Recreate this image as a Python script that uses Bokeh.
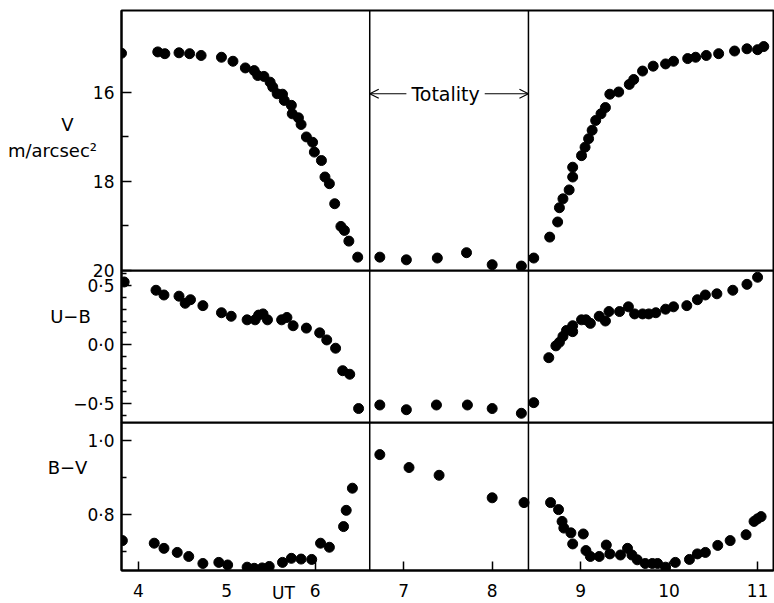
from bokeh.plotting import figure
from bokeh.layouts import column
from bokeh.models import (Range1d, FixedTicker, Span, Label, Arrow, OpenHead,
                          CustomJSTickFormatter)
from bokeh.core.properties import value
from bokeh.embed import file_html
from bokeh.resources import INLINE

# ---------------- data ----------------
ut_v = [3.81, 4.22, 4.30, 4.46, 4.58, 4.71, 4.94, 5.07, 5.21, 5.31, 5.35, 5.42, 5.49, 5.52,
        5.57, 5.63, 5.65, 5.73, 5.74, 5.81, 5.84, 5.90, 5.97, 5.99, 6.07, 6.11, 6.16, 6.22,
        6.29, 6.33, 6.38, 6.48, 6.73, 7.03, 7.38, 7.71, 8.00, 8.33, 8.47, 8.65, 8.74, 8.76,
        8.80, 8.87, 8.91, 8.91, 9.01, 9.05, 9.09, 9.13, 9.17, 9.23, 9.28, 9.33, 9.43, 9.55,
        9.60, 9.70, 9.82, 9.96, 10.05, 10.21, 10.30, 10.42, 10.56, 10.74, 10.88, 11.00, 11.07]
v_mag = [15.12, 15.09, 15.13, 15.11, 15.13, 15.17, 15.21, 15.30, 15.45, 15.51, 15.62, 15.64,
         15.77, 15.88, 16.03, 16.04, 16.18, 16.29, 16.48, 16.57, 16.72, 17.00, 17.12, 17.34,
         17.53, 17.90, 18.05, 18.50, 19.01, 19.10, 19.34, 19.70, 19.70, 19.76, 19.72, 19.60,
         19.87, 19.90, 19.72, 19.25, 18.91, 18.59, 18.39, 18.19, 17.90, 17.68, 17.42, 17.23,
         17.04, 16.85, 16.63, 16.48, 16.34, 16.04, 15.99, 15.82, 15.71, 15.52, 15.41, 15.36,
         15.30, 15.24, 15.21, 15.17, 15.13, 15.07, 15.02, 15.04, 14.97]

ut_ub = [3.84, 4.20, 4.29, 4.46, 4.53, 4.59, 4.73, 4.94, 5.05, 5.23, 5.32, 5.36, 5.41, 5.46,
         5.62, 5.68, 5.75, 5.90, 6.05, 6.13, 6.23, 6.31, 6.39, 6.49, 6.73, 7.03, 7.37, 7.72,
         8.00, 8.33, 8.47, 8.64, 8.72, 8.76, 8.80, 8.84, 8.91, 8.91, 9.01, 9.06, 9.11, 9.21,
         9.28, 9.32, 9.44, 9.54, 9.61, 9.70, 9.77, 9.85, 9.96, 10.05, 10.20, 10.32, 10.41,
         10.54, 10.72, 10.88, 11.00]
u_b = [0.53, 0.46, 0.42, 0.41, 0.35, 0.38, 0.33, 0.27, 0.24, 0.21, 0.21, 0.25, 0.26, 0.21,
       0.21, 0.23, 0.16, 0.14, 0.10, 0.04, -0.03, -0.22, -0.25, -0.54, -0.51, -0.55, -0.51,
       -0.51, -0.54, -0.58, -0.49, -0.11, -0.01, 0.02, 0.07, 0.12, 0.16, 0.11, 0.21, 0.21,
       0.18, 0.24, 0.20, 0.28, 0.28, 0.32, 0.26, 0.26, 0.26, 0.27, 0.30, 0.32, 0.33, 0.38,
       0.42, 0.43, 0.46, 0.51, 0.57]

ut_bv = [3.82, 4.18, 4.29, 4.44, 4.57, 4.73, 4.91, 5.01, 5.23, 5.31, 5.40, 5.48, 5.63, 5.73,
         5.84, 5.96, 6.06, 6.16, 6.32, 6.35, 6.42, 6.73, 7.06, 7.40, 8.00, 8.36, 8.66, 8.75,
         8.79, 8.81, 8.89, 8.91, 9.03, 9.06, 9.11, 9.21, 9.29, 9.33, 9.45, 9.53, 9.58, 9.64,
         9.73, 9.81, 9.87, 9.96, 10.07, 10.23, 10.32, 10.41, 10.55, 10.69, 10.87, 10.96,
         11.00, 11.04]
b_v = [0.730, 0.723, 0.709, 0.698, 0.687, 0.668, 0.671, 0.664, 0.658, 0.655, 0.656, 0.660,
       0.671, 0.682, 0.680, 0.679, 0.723, 0.712, 0.768, 0.812, 0.872, 0.963, 0.928, 0.907,
       0.846, 0.833, 0.833, 0.814, 0.782, 0.764, 0.751, 0.721, 0.748, 0.703, 0.687, 0.687,
       0.718, 0.694, 0.691, 0.709, 0.691, 0.678, 0.668, 0.668, 0.668, 0.658, 0.671, 0.679,
       0.694, 0.698, 0.717, 0.730, 0.746, 0.782, 0.789, 0.795]

totality = [6.616, 8.41]          # UT of 2nd and 3rd contact
x_ticks = [4, 5, 6, 7, 8, 9, 10, 11]
v_ticks, v_minor = [16, 18, 20], [17, 19]
ub_ticks, ub_minor = [-0.5, 0.0, 0.5], [-0.6, -0.4, -0.3, -0.2, -0.1, 0.1, 0.2, 0.3, 0.4, 0.6]
bv_ticks, bv_minor = [0.8, 1.0], [0.7, 0.9]

# side labels (text, page-x, page-y)
side_labels = ["V", "m/arcsec\u00b2", "U\u2212B", "B\u2212V"]
side_x = [67, 52, 70, 67]
side_y = [124, 150, 316, 467]

# ---------------- layout ----------------
FONT = "DejaVu Sans"
W, H = 774, 603
BL, BR = 121, 1
x_range = Range1d(3.81, 11.18)

fmt = CustomJSTickFormatter(code="return tick.toFixed(1).replace('.', '\u00b7').replace('-', '\u2212');")


def make_fig(height, yr, btop, bbottom, margin, ticks, minor, major_in, minor_in, formatter=None,
             xaxis=False):
    p = figure(width=W, height=height, x_range=x_range, y_range=yr,
               output_backend="svg", toolbar_location=None,
               x_axis_location="below" if xaxis else None,
               min_border_left=BL, min_border_right=BR,
               min_border_top=btop, min_border_bottom=bbottom, margin=margin)
    p.background_fill_alpha = 0
    p.border_fill_alpha = 0
    p.grid.visible = False
    p.outline_line_color = "black"
    p.outline_line_width = 2
    p.outline_line_alpha = 1
    ax = p.yaxis[0]
    ax.ticker = FixedTicker(ticks=ticks, minor_ticks=minor)
    ax.major_tick_in = major_in
    ax.major_tick_out = 0
    ax.minor_tick_in = minor_in
    ax.minor_tick_out = 0
    ax.major_tick_line_width = 1.5
    ax.minor_tick_line_width = 1.5
    ax.axis_line_width = 2
    ax.major_label_text_font = FONT
    ax.major_label_text_font_size = "17px"
    ax.major_label_text_color = "black"
    ax.major_label_standoff = 7
    if formatter is not None:
        ax.formatter = formatter
    for t in totality:
        p.add_layout(Span(location=t, dimension="height", line_color="black", line_width=1.5))
    return p


# --- V panel ---
p1 = make_fig(280, Range1d(20, 14.16), 10, 10, (0, 0, -10, 0), v_ticks, v_minor, 10, 7)
p1.scatter(ut_v, v_mag, size=10, color="black")
p1.add_layout(Arrow(x_start=totality[0], x_end=totality[1], y_start=16.03, y_end=16.03,
                    start=OpenHead(size=9, line_width=1.2), end=OpenHead(size=9, line_width=1.2),
                    line_width=1.2, line_color="black"))
p1.add_layout(Label(x=(totality[0] + totality[1]) / 2 - 0.04, y=16.03, text="Totality",
                    text_font=FONT, text_font_size="19px", text_align="center",
                    text_color="black", text_baseline="middle",
                    background_fill_color="white", padding=5))

# --- U-B panel ---
p2 = make_fig(162, Range1d(-0.658, 0.627), 0, 10, (0, 0, -10, 0), ub_ticks, ub_minor, 10, 5, fmt)
p2.scatter(ut_ub, u_b, size=10, color="black")

# --- B-V panel ---
p3 = make_fig(181, Range1d(0.649, 1.05), 0, 33, 0, bv_ticks, bv_minor, 10, 5, fmt, xaxis=True)
p3.scatter(ut_bv, b_v, size=10, color="black")
xa = p3.xaxis[0]
xa.ticker = FixedTicker(ticks=x_ticks, minor_ticks=[])
xa.major_tick_in = 9
xa.major_tick_out = 0
xa.major_tick_line_width = 1.5
xa.axis_line_width = 2
xa.major_label_text_font = FONT
xa.major_label_text_font_size = "17px"
xa.major_label_text_color = "black"
xa.major_label_standoff = 13

# --- transparent overlay holding the side labels (page-pixel coordinates) ---
ov = figure(width=W, height=H, x_range=Range1d(0, W), y_range=Range1d(H, 0),
            output_backend="svg", toolbar_location=None, x_axis_location=None,
            y_axis_location=None, min_border=0, min_border_left=0, min_border_right=0,
            min_border_top=0, min_border_bottom=0, margin=(-H, 0, 0, 0))
ov.frame_align = False
ov.background_fill_alpha = 0
ov.border_fill_alpha = 0
ov.outline_line_color = None
ov.grid.visible = False
ov.text(x=side_x, y=side_y, text=side_labels, text_font=value(FONT),
        text_font_size=value("18px"), text_color="black", text_align="center",
        text_baseline="middle")
ov.text(x=[283], y=[602], text=["UT"], text_font=value(FONT), text_font_size=value("17px"),
        text_color="black", text_align="center", text_baseline="bottom")

layout = column(p1, p2, p3, ov, spacing=0)
open("out.html", "w").write(file_html(layout, INLINE))
